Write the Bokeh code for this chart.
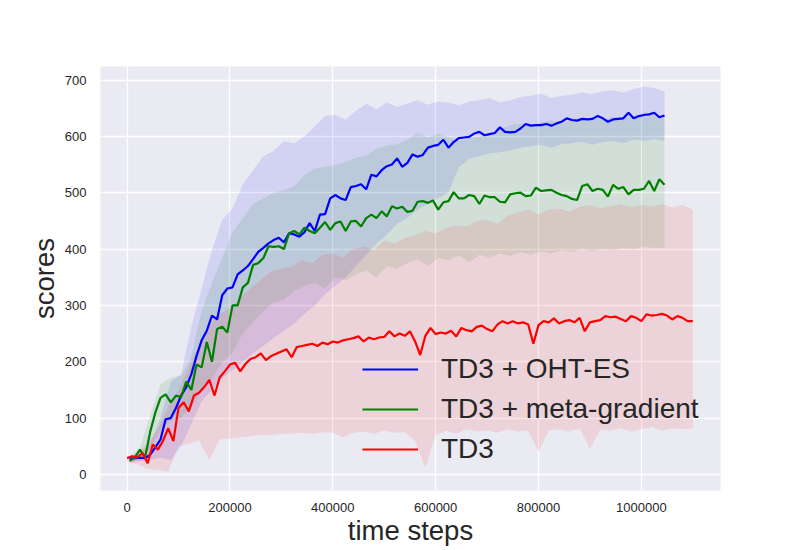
from bokeh.plotting import figure
from bokeh.models import Range1d, FixedTicker, Legend, LegendItem
from bokeh.embed import file_html
from bokeh.resources import INLINE

# ---------------- data ----------------
x_ticks = [0, 200000, 400000, 600000, 800000, 1000000]
x_tick_labels = ["0", "200000", "400000", "600000", "800000", "1000000"]
y_ticks = [0, 100, 200, 300, 400, 500, 600, 700]

series_names = ["TD3 + OHT-ES", "TD3 + meta-gradient", "TD3"]

blue_x = list(range(5000, 1055000, 10000))
blue_mean = [28, 29, 30, 29, 35, 48, 62, 98, 100, 118,
             140, 155, 178, 210, 238, 255, 282, 275, 318, 330,
             332, 355, 362, 370, 382, 395, 402, 410, 416, 420,
             412, 428, 426, 422, 430, 446, 432, 461, 462, 490,
             496, 490, 487, 510, 512, 515, 506, 532, 529, 540,
             547, 550, 561, 546, 553, 568, 564, 567, 580, 583,
             585, 594, 580, 590, 597, 598, 599, 605, 608, 602,
             604, 606, 616, 608, 607, 608, 614, 622, 619, 620,
             620, 622, 619, 623, 626, 632, 629, 628, 631, 630,
             631, 636, 632, 626, 630, 631, 632, 642, 632, 636,
             638, 639, 642, 634, 637]

green_x = list(range(5000, 1055000, 10000))
green_mean = [24, 30, 44, 30, 76, 110, 136, 142, 128, 140,
              137, 165, 150, 195, 190, 235, 200, 258, 262, 252,
              300, 300, 332, 340, 372, 375, 384, 405, 404, 405,
              400, 428, 432, 426, 438, 432, 428, 438, 448, 434,
              446, 449, 432, 449, 450, 440, 455, 461, 455, 467,
              458, 476, 472, 475, 466, 468, 484, 485, 482, 486,
              470, 483, 485, 501, 490, 490, 496, 494, 480, 495,
              492, 492, 484, 483, 497, 499, 500, 494, 495, 509,
              503, 504, 505, 500, 496, 494, 489, 487, 512, 515,
              503, 507, 505, 493, 514, 507, 510, 497, 505, 505,
              507, 521, 503, 524, 514]

red_x = list(range(0, 1110000, 10000))
red_mean = [29, 32, 30, 38, 20, 53, 44, 60, 82, 59,
            118, 128, 112, 140, 145, 155, 168, 140, 172, 183,
            195, 198, 183, 196, 205, 208, 215, 203, 210, 214,
            218, 222, 208, 226, 228, 230, 232, 228, 234, 231,
            236, 234, 238, 240, 242, 245, 236, 243, 240, 243,
            244, 254, 245, 250, 246, 254, 236, 212, 246, 260,
            249, 252, 250, 255, 245, 260, 256, 254, 262, 264,
            258, 254, 266, 272, 268, 272, 268, 270, 266, 232,
            265, 272, 270, 277, 268, 272, 274, 270, 278, 254,
            270, 272, 274, 281, 279, 280, 276, 272, 281, 278,
            272, 284, 282, 283, 285, 282, 275, 281, 278, 272,
            272]

blue_band_x = list(range(5000, 1065000, 20000))
blue_upper = [30, 38, 55, 100, 165, 178, 262, 330, 398, 452,
              472, 515, 540, 565, 574, 592, 588, 600, 618, 636,
              638, 630, 645, 658, 648, 660, 652, 658, 664, 656,
              662, 660, 655, 662, 664, 668, 660, 664, 670, 672,
              676, 668, 672, 674, 678, 675, 680, 682, 678, 684,
              688, 686, 680]
blue_lower = [22, 24, 26, 30, 25, 50, 90, 130, 150, 170,
              185, 200, 215, 228, 242, 255, 268, 285, 300, 320,
              335, 350, 370, 390, 410, 425, 445, 455, 470, 480,
              490, 500, 545, 560, 565, 570, 572, 575, 580, 582,
              585, 580, 586, 588, 590, 585, 590, 592, 588, 594,
              592, 595, 592]

green_band_x = list(range(5000, 1065000, 20000))
green_upper = [30, 48, 105, 160, 172, 175, 210, 290, 340, 385,
               430, 455, 480, 490, 500, 505, 512, 532, 543, 546,
               549, 555, 562, 566, 578, 584, 586, 595, 606, 598,
               605, 598, 592, 596, 600, 604, 612, 620, 622, 618,
               625, 628, 622, 630, 628, 632, 630, 635, 632, 636,
               634, 638, 636]
green_lower = [20, 25, 45, 80, 95, 100, 120, 150, 170, 200,
               215, 250, 270, 290, 305, 310, 325, 335, 340, 330,
               350, 345, 355, 362, 350, 370, 365, 375, 382, 370,
               385, 380, 388, 376, 390, 385, 392, 388, 395, 390,
               396, 392, 398, 395, 400, 396, 400, 398, 402, 400,
               404, 402, 402]

red_band_x = list(range(0, 1120000, 20000))
red_upper = [32, 40, 55, 80, 120, 150, 190, 230, 262, 285,
             295, 315, 330, 345, 360, 365, 368, 380, 375, 390,
             392, 385, 400, 405, 398, 415, 410, 420, 425, 432,
             428, 438, 442, 440, 450, 452, 445, 460, 465, 470,
             462, 470, 472, 466, 475, 478, 472, 476, 480, 474,
             478, 475, 480, 474, 478, 470]
red_lower = [22, 18, 10, 8, 5, 50, 55, 60, 25, 62,
             64, 66, 68, 70, 70, 72, 72, 74, 72, 75,
             74, 66, 74, 76, 72, 78, 74, 75, 60, 12,
             70, 78, 72, 80, 76, 78, 74, 80, 76, 78,
             40, 78, 80, 76, 82, 45, 80, 78, 82, 76,
             80, 84, 78, 82, 80, 82]

# ---------------- figure ----------------
FONT = "Liberation Sans"
TEXT = "#262626"

p = figure(width=784, height=548, output_backend="svg", toolbar_location=None,
           x_range=Range1d(-51700, 1153900), y_range=Range1d(-28.5, 724),
           min_border_left=100, min_border_right=64, min_border_top=66,
           min_border_bottom=58,
           background_fill_color="#eaeaf2", border_fill_color="white")
p.outline_line_color = None

p.xgrid.grid_line_color = "white"
p.ygrid.grid_line_color = "white"
p.xgrid.grid_line_width = 1.3
p.ygrid.grid_line_width = 1.3

for ax in (p.xaxis[0], p.yaxis[0]):
    ax.axis_line_color = None
    ax.major_tick_line_color = None
    ax.minor_tick_line_color = None
    ax.major_label_text_font = FONT
    ax.major_label_text_font_size = "13px"
    ax.major_label_text_color = TEXT
    ax.axis_label_text_font = FONT
    ax.axis_label_text_font_size = "27.5px"
    ax.axis_label_text_font_style = "normal"
    ax.axis_label_text_color = TEXT

p.xaxis.ticker = FixedTicker(ticks=x_ticks)
p.xaxis.major_label_overrides = {t: s for t, s in zip(x_ticks, x_tick_labels)}
p.yaxis.ticker = FixedTicker(ticks=y_ticks)
p.xaxis.axis_label = "time steps"
p.yaxis.axis_label = "scores"
p.xaxis.major_label_standoff = 6
p.yaxis.major_label_standoff = 8
p.xaxis.axis_label_standoff = 0
p.yaxis.axis_label_standoff = 2

# bands
p.varea(x=blue_band_x, y1=blue_lower, y2=blue_upper, fill_color="blue", fill_alpha=0.1)
p.varea(x=green_band_x, y1=green_lower, y2=green_upper, fill_color="green", fill_alpha=0.1)
p.varea(x=red_band_x, y1=red_lower, y2=red_upper, fill_color="red", fill_alpha=0.1)

# lines
rb = p.line(blue_x, blue_mean, line_color="blue", line_width=2.2)
rg = p.line(green_x, green_mean, line_color="green", line_width=2.2)
rr = p.line(red_x, red_mean, line_color="red", line_width=2.2)

legend = Legend(items=[LegendItem(label=series_names[0], renderers=[rb]),
                       LegendItem(label=series_names[1], renderers=[rg]),
                       LegendItem(label=series_names[2], renderers=[rr])],
                location=(262, 21))
legend.label_text_font = FONT
legend.label_text_font_size = "28px"
legend.label_text_color = TEXT
legend.glyph_width = 56
legend.glyph_height = 40
legend.label_height = 40
legend.label_standoff = 23
legend.spacing = 0
legend.padding = 0
legend.margin = 0
legend.border_line_color = None
legend.background_fill_alpha = 0
p.add_layout(legend)

open("out.html", "w").write(file_html(p, INLINE))
